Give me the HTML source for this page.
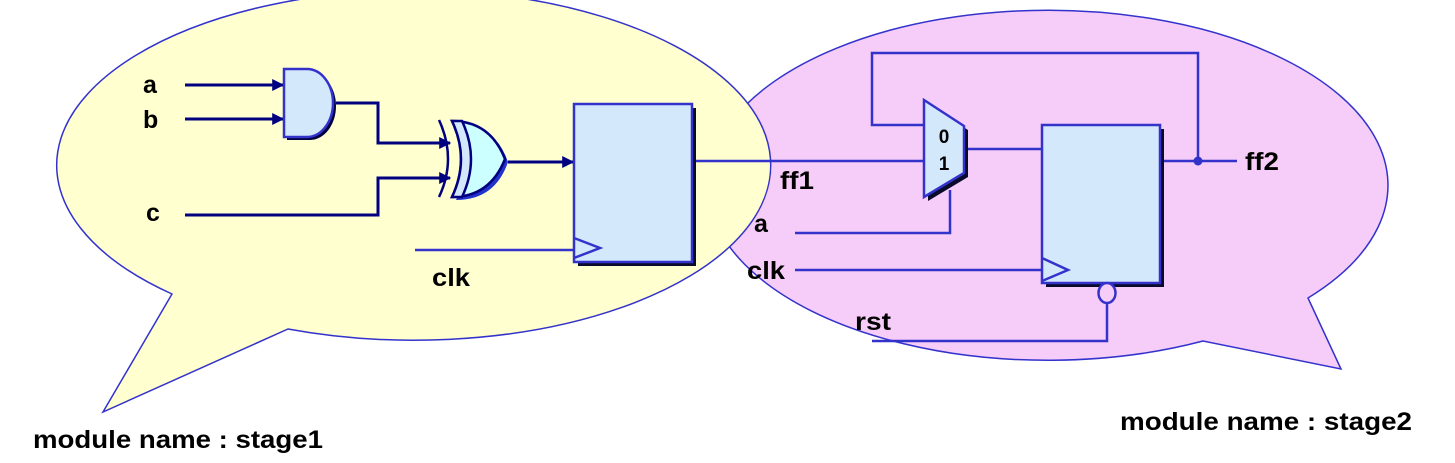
<!DOCTYPE html>
<html><head><meta charset="utf-8"><style>
html,body{margin:0;padding:0;background:#fff;}
svg{display:block;}
text{font-family:"Liberation Sans",Arial,sans-serif;font-weight:bold;fill:#000;}
</style></head><body>
<svg width="1455" height="463" viewBox="0 0 1455 463" xmlns="http://www.w3.org/2000/svg">
<defs>
<marker id="ar" viewBox="0 0 10 10" refX="9" refY="5" markerWidth="4" markerHeight="4" orient="auto"><path d="M0,0 L10,5 L0,10 z" fill="#000080"/></marker>
</defs>
<path d="M1308,298 L1341,369 L1203,341 A340,175 0 1 1 1308,298 Z" fill="#f6ccf8" stroke="#3333cc" stroke-width="1.5"/>
<path d="M172,294 L103,412 L288,329 A357,175 0 1 0 172,294 Z" fill="#ffffd0" stroke="#3333cc" stroke-width="1.5"/>

<g stroke="#000080" stroke-width="3" fill="none">
<line x1="185" y1="85" x2="283" y2="85" marker-end="url(#ar)"/>
<line x1="185" y1="119" x2="283" y2="119" marker-end="url(#ar)"/>
<polyline points="336,103 378,103 378,143 450,143" marker-end="url(#ar)"/>
<polyline points="185,215 378,215 378,178 450,178" marker-end="url(#ar)"/>
<line x1="508" y1="162" x2="573" y2="162" marker-end="url(#ar)"/>
</g>
<path d="M287,72 L310,72 A26,34 0 0 1 310,140 L287,140 Z" fill="#000040"/>
<path d="M284,69 L307,69 A26,34 0 0 1 307,137 L284,137 Z" fill="#d4e8fc" stroke="#3333cc" stroke-width="2.5"/>
<path d="M456,124 Q475,162 456,200 Q495,200 508,162 Q495,124 456,124 Z" fill="#2233cc"/>
<path d="M452,121 Q470,159 452,197 Q490,197 505,159 Q490,121 452,121 Z" fill="#ccffff" stroke="#000080" stroke-width="2.5"/>
<path d="M452,121 Q470,159 452,197 L462,197 Q480,159 462,121 Z" fill="#d4e8fc" stroke="#000080" stroke-width="2.5"/>
<path d="M439,120 Q457,159 439,197" fill="none" stroke="#000080" stroke-width="2.5"/>
<line x1="415" y1="250" x2="574" y2="250" stroke="#3333cc" stroke-width="2.5"/>
<line x1="692" y1="161" x2="924" y2="161" stroke="#3333cc" stroke-width="2.5"/>
<rect x="578" y="108" width="118" height="158" fill="#0a0a2a"/>
<rect x="574" y="104" width="118" height="158" fill="#d4e8fc" stroke="#3333cc" stroke-width="2.5"/>
<polyline points="574,238 600,248 574,258" fill="none" stroke="#3333cc" stroke-width="2.5"/>

<g stroke="#3333cc" stroke-width="2.5" fill="none">
<polyline points="924,125 872,125 872,53 1198,53 1198,161"/>
<line x1="964" y1="149" x2="1042" y2="149"/>
<polyline points="795,233 950,233 950,190"/>
<line x1="795" y1="270" x2="1042" y2="270"/>
<polyline points="1107,302 1107,341 872,341"/>
<line x1="1160" y1="161" x2="1237" y2="161"/>
</g>
<circle cx="1198" cy="161" r="4.5" fill="#3333cc"/>
<polygon points="928,104 968,130 968,177 928,201" fill="#0a0a2a"/>
<polygon points="924,100 964,126 964,173 924,197" fill="#d4e8fc" stroke="#3333cc" stroke-width="2.5"/>
<text x="944" y="143" font-size="19" text-anchor="middle">0</text>
<text x="944" y="170" font-size="19" text-anchor="middle">1</text>
<rect x="1046" y="129" width="118" height="158" fill="#0a0a2a"/>
<rect x="1042" y="125" width="118" height="158" fill="#d4e8fc" stroke="#3333cc" stroke-width="2.5"/>
<polyline points="1042,258 1068,270 1042,281" fill="none" stroke="#3333cc" stroke-width="2.5"/>
<ellipse cx="1107" cy="293" rx="8.5" ry="10" fill="#f6ccf8" stroke="#3333cc" stroke-width="2.5"/>

<g font-size="25">
<text x="143" y="93">a</text>
<text x="143" y="128">b</text>
<text x="146" y="221">c</text>
<text x="432" y="286" textLength="38" lengthAdjust="spacingAndGlyphs">clk</text>
<text x="780" y="189" textLength="34" lengthAdjust="spacingAndGlyphs">ff1</text>
<text x="754" y="232">a</text>
<text x="747" y="279" textLength="38" lengthAdjust="spacingAndGlyphs">clk</text>
<text x="855" y="330" textLength="36" lengthAdjust="spacingAndGlyphs">rst</text>
<text x="1245" y="170" textLength="34" lengthAdjust="spacingAndGlyphs">ff2</text>
<text x="33" y="448" textLength="290" lengthAdjust="spacingAndGlyphs">module name : stage1</text>
<text x="1120" y="430" textLength="292" lengthAdjust="spacingAndGlyphs">module name : stage2</text>
</g>
</svg>
</body></html>
